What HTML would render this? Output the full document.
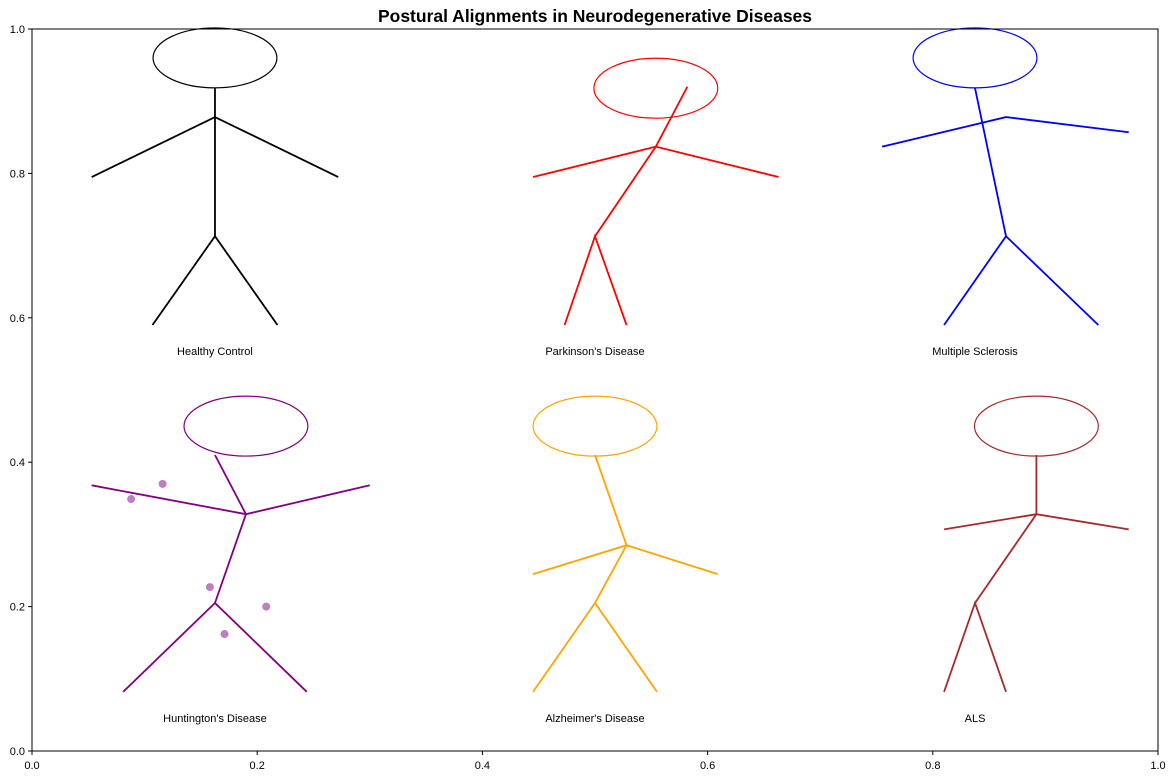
<!DOCTYPE html>
<html><head><meta charset="utf-8"><style>
body{margin:0;background:#fff;font-family:"Liberation Sans","DejaVu Sans",sans-serif}
text{font-family:"Liberation Sans","DejaVu Sans",sans-serif}
</style></head><body>
<svg id="chart" width="1174" height="778" xmlns="http://www.w3.org/2000/svg">
<text x="595" y="22" text-anchor="middle" font-size="17.5" font-weight="bold">Postural Alignments in Neurodegenerative Diseases</text>
<g id="ticks"></g><g id="figs"></g>
<rect x="32" y="29" width="1126" height="722" fill="none" stroke="#000" stroke-width="1"/>
</svg>
<script>
const xTicks=[0,0.2,0.4,0.6,0.8,1.0];
const yTicks=[0,0.2,0.4,0.6,0.8,1.0];
const names=["Healthy Control","Parkinson's Disease","Multiple Sclerosis","Huntington's Disease","Alzheimer's Disease","ALS"];
const colors=["#000000","#ff0000","#0000ff","#800080","#ffa500","#a52a2a"];
const heads=[[0.1625,0.96],[0.554,0.918],[0.8375,0.96],[0.19,0.45],[0.5,0.45],[0.892,0.45]];
const labelPos=[[0.1625,0.554],[0.5,0.554],[0.8375,0.554],[0.1625,0.046],[0.5,0.046],[0.8375,0.046]];
const spines=[
 [[0.1625,0.918],[0.1625,0.878],[0.1625,0.713]],
 [[0.582,0.92],[0.554,0.837],[0.5,0.713]],
 [[0.8375,0.918],[0.865,0.713]],
 [[0.1625,0.41],[0.19,0.328],[0.1625,0.205]],
 [[0.5,0.41],[0.528,0.285],[0.5,0.205]],
 [[0.892,0.41],[0.892,0.328],[0.8375,0.205]]];
const arms=[
 [[0.053,0.795],[0.1625,0.878],[0.272,0.795]],
 [[0.445,0.795],[0.554,0.837],[0.663,0.795]],
 [[0.755,0.837],[0.865,0.878],[0.974,0.857]],
 [[0.053,0.368],[0.19,0.328],[0.3,0.368]],
 [[0.445,0.245],[0.528,0.285],[0.609,0.245]],
 [[0.81,0.307],[0.892,0.328],[0.974,0.307]]];
const legs=[
 [[0.107,0.59],[0.1625,0.713],[0.218,0.59]],
 [[0.473,0.59],[0.5,0.713],[0.528,0.59]],
 [[0.81,0.59],[0.865,0.713],[0.947,0.59]],
 [[0.081,0.082],[0.1625,0.205],[0.244,0.082]],
 [[0.445,0.082],[0.5,0.205],[0.555,0.082]],
 [[0.81,0.082],[0.8375,0.205],[0.865,0.082]]];
const tremorX=[0.088,0.116,0.158,0.208,0.171];
const tremorY=[0.349,0.37,0.227,0.2,0.162];
const headW=0.11, headH=0.083;
const X=v=>32+v*1126, Y=v=>751-v*722;
const NS="http://www.w3.org/2000/svg";
const mk=(t,a,p)=>{const e=document.createElementNS(NS,t);for(const k in a)e.setAttribute(k,a[k]);p.appendChild(e);return e;};
const tg=document.getElementById('ticks'), fg=document.getElementById('figs');
xTicks.forEach(v=>{
 const l=mk('line',{x1:X(v),x2:X(v),y1:751,y2:755,stroke:'#000'},tg);
 
 
 const t=mk('text',{x:X(v),y:769,'text-anchor':'middle','font-size':11},tg);t.textContent=v.toFixed(1);
 
 
});
yTicks.forEach(v=>{
 const l=mk('line',{x1:28,x2:32,y1:Y(v),y2:Y(v),stroke:'#000'},tg);
 
 
 const t=mk('text',{x:25,y:Y(v)+4,'text-anchor':'end','font-size':11},tg);t.textContent=v.toFixed(1);
 
 
});
const pts=a=>a.map(p=>X(p[0])+','+Y(p[1])).join(' ');
names.forEach((n,i)=>{
 const g=mk('g',{},fg);
 
 
 const c=colors[i];
 const h=mk('ellipse',{cx:X(heads[i][0]),cy:Y(heads[i][1]),rx:headW/2*1126,ry:headH/2*722,fill:'none',stroke:c,'stroke-width':1.2},g);
 
 
 [spines[i],arms[i],legs[i]].forEach((s,j)=>{
  const p=mk('polyline',{points:pts(s),fill:'none',stroke:c,'stroke-width':1.8},g);
  
  
 });
 const t=mk('text',{x:X(labelPos[i][0]),y:Y(labelPos[i][1])+4,'text-anchor':'middle','font-size':11},g);
 t.textContent=n;
 
 
});
tremorX.forEach((v,k)=>{
 const d=mk('circle',{cx:X(v),cy:Y(tremorY[k]),r:4,fill:'#800080','fill-opacity':0.5},fg);
 
 
});
</script>
</body></html>
